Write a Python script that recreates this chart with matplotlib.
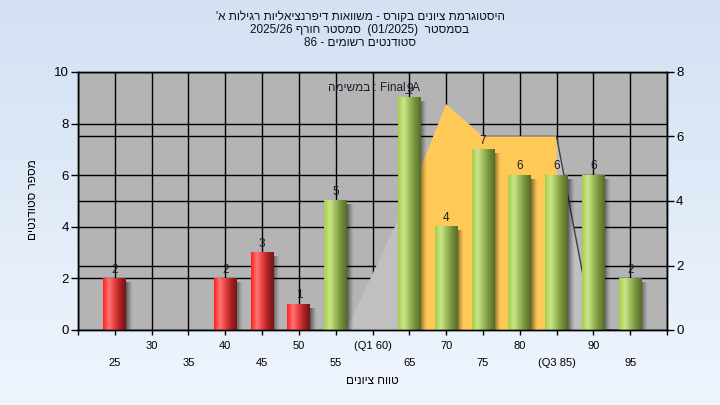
import re

import matplotlib
matplotlib.use("Agg")
import matplotlib.pyplot as plt
import numpy as np
from matplotlib import transforms as mtransforms
from matplotlib.colors import LinearSegmentedColormap

plt.rcParams["font.family"] = ["Liberation Sans", "DejaVu Sans"]

# data
TITLE_LINES = [
    "היסטוגרמת ציונים בקורס - משוואות דיפרנציאליות רגילות א'",
    "בסמסטר  (01/2025)  סמסטר חורף 2025/26",
    "סטודנטים רשומים - 86",
]
TASK_NOTE = "Final_A : במשימה"
X_TITLE = "טווח ציונים"
Y_TITLE = "מספר סטודנטים"

GRADES = [25, 30, 35, 40, 45, 50, 55, 60, 65, 70, 75, 80, 85, 90, 95]
TICK_LABELS = ["25", "30", "35", "40", "45", "50", "55", "(Q1 60)",
               "65", "70", "75", "80", "(Q3 85)", "90", "95"]
COUNTS = [2, 0, 0, 2, 3, 1, 5, 0, 9, 4, 7, 6, 6, 6, 2]
PASS_GRADE = 55

# distribution curve on the right axis
CURVE_X = [56.4, 65, 70, 75, 80, 85, 90, 95]
CURVE_Y = [0, 4.15, 7, 6, 6, 6, 0, 0]
BAND = (65, 85)


def rtl(text):
    """Crude visual ordering for an RTL line (matplotlib has no bidi)."""
    out = []
    for tok in re.split(r"([A-Za-z0-9_/.]+)", text):
        if re.fullmatch(r"[A-Za-z0-9_/.]+", tok):
            out.append(tok)
        else:
            out.append(tok[::-1].translate(str.maketrans("()", ")(")))
    return "".join(reversed(out))


fig = plt.figure(figsize=(7.2, 4.05), dpi=100)

# light blue gradient behind everything
bg = fig.add_axes([0, 0, 1, 1], zorder=-10)
bg_cmap = LinearSegmentedColormap.from_list("bg", ["#EFF5FD", "#D3E1F3"])
bg.imshow(np.linspace(0, 1, 256)[:, None], cmap=bg_cmap, origin="lower",
          aspect="auto", extent=[0, 1, 0, 1])
bg.axis("off")

ax = fig.add_axes([78 / 720, 1 - 330 / 405, 589 / 720, 258 / 405])
ax2 = ax.twinx()
ax.set_facecolor("#B4B4B4")
ax.set_xlim(20, 100)
ax.set_ylim(0, 10)
ax2.set_ylim(0, 8)

# grid
ax.set_axisbelow(True)
upper = [g for i, g in enumerate(GRADES) if i % 2 == 1]
lower = [g for i, g in enumerate(GRADES) if i % 2 == 0]
ax.set_xticks([20] + upper + [100], [""] + [l for i, l in enumerate(TICK_LABELS) if i % 2 == 1] + [""])
ax.set_xticks(lower, [l for i, l in enumerate(TICK_LABELS) if i % 2 == 0], minor=True)
ax.set_yticks(range(0, 11, 2))
ax2.set_yticks(range(0, 9, 2))
ax.grid(True, which="both", color="black", linewidth=1)
trans_r = mtransforms.blended_transform_factory(ax.transAxes, ax2.transData)
for v in range(2, 8, 2):
    ax.plot([0, 1], [v, v], color="black", linewidth=1, transform=trans_r, zorder=0.6)

# distribution area (right axis)
trans_area = mtransforms.blended_transform_factory(ax.transData, ax2.transData)
ax.fill(CURVE_X, CURVE_Y, color="#C0C0C0", linewidth=0, transform=trans_area, zorder=1)
band_x = [x for x in CURVE_X if BAND[0] <= x <= BAND[1]]
band_y = [y for x, y in zip(CURVE_X, CURVE_Y) if BAND[0] <= x <= BAND[1]]
ax.fill([BAND[0]] + band_x + [BAND[1]], [0] + band_y + [0], color="#FFC957",
        linewidth=0, transform=trans_area, zorder=1.1)
tail_x = [x for x in CURVE_X if x >= BAND[1]]
tail_y = [y for x, y in zip(CURVE_X, CURVE_Y) if x >= BAND[1]]
ax.plot(tail_x, tail_y, color="#404040", linewidth=1, transform=trans_area, zorder=1.2)

# cylinder-looking bars
red = LinearSegmentedColormap.from_list("red", ["#FF1E1E", "#FF7474", "#E84040", "#A82222", "#761616"])
green = LinearSegmentedColormap.from_list("green", ["#A6CE48", "#CAE68C", "#9EBC5C", "#74903C", "#566C2A"])
width = 3.1
shadow = np.zeros((1, 32, 4))
shadow[..., 3] = np.linspace(0.6, 0, 32) ** 1.3
bars = ax.bar(GRADES, COUNTS, width, color="none", zorder=2)
for bar, grade, count in zip(bars, GRADES, COUNTS):
    if count == 0:
        continue
    x0, x1 = bar.get_x(), bar.get_x() + bar.get_width()
    cmap = red if grade < PASS_GRADE else green
    ax.imshow(shadow, extent=(x1 - 0.05, x1 + 0.85, 0, count - 0.15), aspect="auto",
              interpolation="bilinear", zorder=1.5)
    ax.imshow(cmap(np.linspace(0, 1, 64))[None, :, :3], extent=(x0, x1, 0, count),
              aspect="auto", interpolation="bilinear", zorder=2)
    ax.annotate(str(count), (grade, count), xytext=(0, 2), textcoords="offset points",
                ha="center", va="bottom", fontsize=8.5, color="#1c1c2c", zorder=4)
ax.set_xlim(20, 100)
ax.set_ylim(0, 10)

ax.text(0.502, 0.943, rtl(TASK_NOTE), transform=ax.transAxes, ha="center",
        va="center", fontsize=8.5, color="#1c1c2c", zorder=4)

# axes styling
for a in (ax, ax2):
    for s in a.spines.values():
        s.set_color("black")
        s.set_linewidth(1)
ax.tick_params(axis="x", which="major", length=3.8, width=1, pad=4, labelsize=8, colors="black")
ax.tick_params(axis="x", which="minor", length=3.8, width=1, pad=16, labelsize=8, colors="black")
ax.tick_params(axis="y", length=5, width=1, pad=1.5, labelsize=9.5, colors="black")
ax2.tick_params(axis="y", length=5, width=1, pad=1.5, labelsize=9.5, colors="black")

# titles
for k, line in enumerate(TITLE_LINES):
    fig.text(0.5, 1 - (17 + 13 * k) / 405, rtl(line), ha="center", va="center",
             fontsize=8.5, color="#101010")
fig.text(372 / 720, 1 - 381 / 405, rtl(X_TITLE), ha="center", va="center", fontsize=8.5)
fig.text(33 / 720, 1 - 200 / 405, rtl(Y_TITLE), ha="center", va="center",
         rotation=90, fontsize=8.5)

fig.savefig("out.png", dpi=100)
